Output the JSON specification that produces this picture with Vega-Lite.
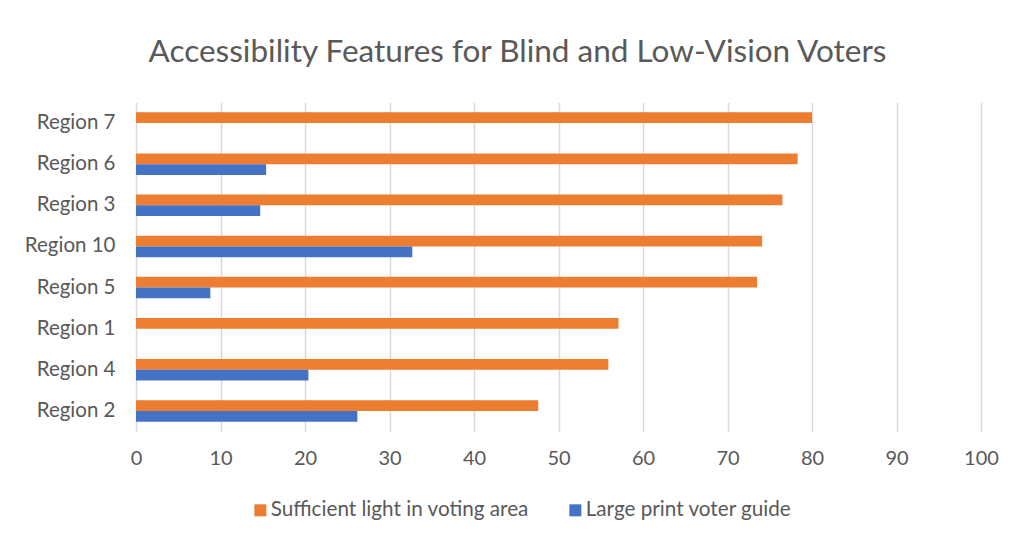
{
  "$schema": "https://vega.github.io/schema/vega-lite/v6.json",
  "width": 845,
  "height": 329,
  "autosize": {"type": "none"},
  "padding": {"left": 136, "top": 102.5, "right": 29, "bottom": 108.5},
  "background": "white",
  "title": {
    "text": "Accessibility Features for Blind and Low-Vision Voters",
    "anchor": "middle",
    "dx": -41,
    "offset": 9,
    "baseline": "alphabetic",
    "font": "Lato",
    "fontSize": 31.5,
    "fontWeight": "normal",
    "color": "#595959"
  },
  "data": {
    "values": [
      {"region": "Region 7", "feature": "Sufficient light in voting area", "pct": 80.0},
      {"region": "Region 6", "feature": "Sufficient light in voting area", "pct": 78.3},
      {"region": "Region 6", "feature": "Large print voter guide", "pct": 15.4},
      {"region": "Region 3", "feature": "Sufficient light in voting area", "pct": 76.5},
      {"region": "Region 3", "feature": "Large print voter guide", "pct": 14.7},
      {"region": "Region 10", "feature": "Sufficient light in voting area", "pct": 74.1},
      {"region": "Region 10", "feature": "Large print voter guide", "pct": 32.7},
      {"region": "Region 5", "feature": "Sufficient light in voting area", "pct": 73.5},
      {"region": "Region 5", "feature": "Large print voter guide", "pct": 8.8},
      {"region": "Region 1", "feature": "Sufficient light in voting area", "pct": 57.1},
      {"region": "Region 4", "feature": "Sufficient light in voting area", "pct": 55.9},
      {"region": "Region 4", "feature": "Large print voter guide", "pct": 20.4},
      {"region": "Region 2", "feature": "Sufficient light in voting area", "pct": 47.6},
      {"region": "Region 2", "feature": "Large print voter guide", "pct": 26.2}
    ]
  },
  "mark": {"type": "bar"},
  "encoding": {
    "y": {
      "field": "region",
      "type": "nominal",
      "sort": ["Region 7", "Region 6", "Region 3", "Region 10", "Region 5", "Region 1", "Region 4", "Region 2"],
      "scale": {"paddingInner": 0.48, "paddingOuter": 0.24},
      "axis": {
        "title": null,
        "domain": false,
        "ticks": false,
        "labelPadding": 21,
        "labelFont": "Lato",
        "labelFontSize": 20.5,
        "labelColor": "#595959"
      }
    },
    "yOffset": {
      "field": "feature",
      "type": "nominal",
      "sort": ["Sufficient light in voting area", "Large print voter guide"]
    },
    "x": {
      "field": "pct",
      "type": "quantitative",
      "scale": {"domain": [0, 100], "nice": false},
      "axis": {
        "title": null,
        "values": [0, 10, 20, 30, 40, 50, 60, 70, 80, 90, 100],
        "domain": false,
        "ticks": false,
        "grid": true,
        "gridColor": "#D9D9D9",
        "gridWidth": 1.5,
        "labelFlush": false,
        "labelPadding": 17,
        "labelFont": "Lato",
        "labelFontSize": 20,
        "labelColor": "#595959"
      }
    },
    "color": {
      "field": "feature",
      "type": "nominal",
      "scale": {
        "domain": ["Sufficient light in voting area", "Large print voter guide"],
        "range": ["#ED7D31", "#4472C4"]
      },
      "legend": {
        "title": null,
        "orient": "none",
        "direction": "horizontal",
        "legendX": 114,
        "legendY": 397,
        "symbolType": "square",
        "symbolSize": 144,
        "symbolStrokeWidth": 0,
        "labelLimit": 0,
        "labelFont": "Lato",
        "labelFontSize": 20.7,
        "labelColor": "#595959",
        "labelOffset": 0,
        "columnPadding": 36
      }
    }
  },
  "config": {
    "view": {"stroke": null}
  }
}
